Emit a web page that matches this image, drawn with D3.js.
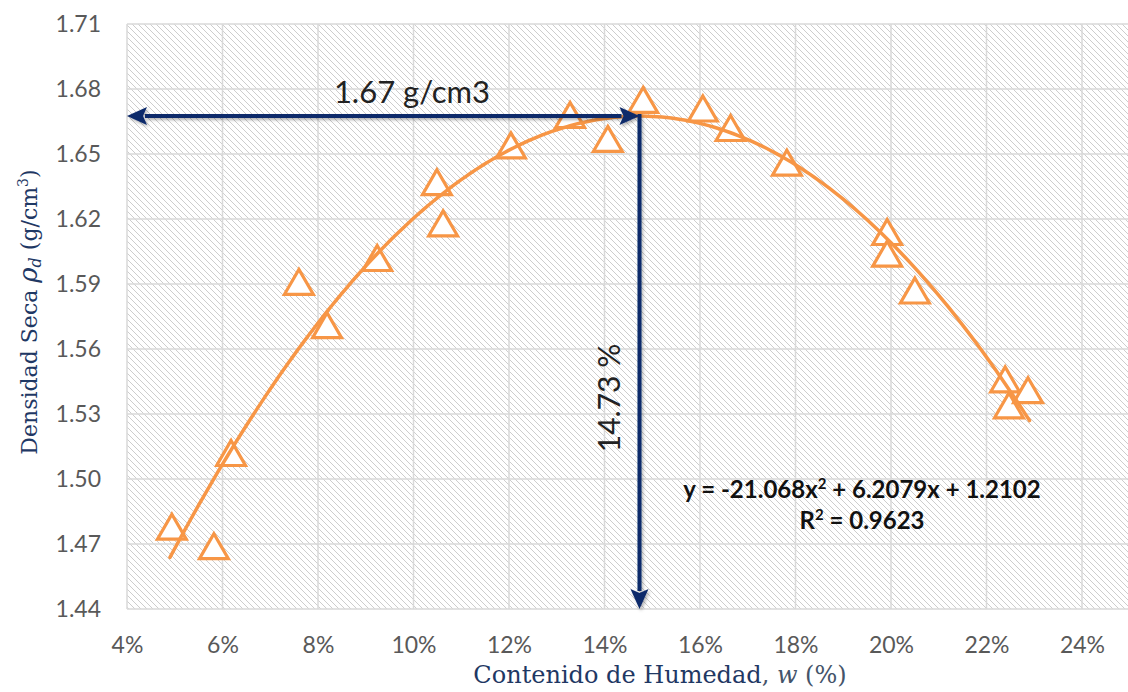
<!DOCTYPE html>
<html>
<head>
<meta charset="utf-8">
<script src="https://cdn.jsdelivr.net/npm/d3@7/dist/d3.min.js"></script>
<style>
  body { margin: 0; background: #fff; }
  svg { display: block; }
</style>
</head>
<body>
<svg id="chart" width="1128" height="692"></svg>
<script>
// Moisture content (fraction) and dry density (g/cm3) of each compaction test
const moisture = [0.0494, 0.0582, 0.0618, 0.0760, 0.0819, 0.0924, 0.1049, 0.1062,
                  0.1204, 0.1328, 0.1407, 0.1481, 0.1606, 0.1664, 0.1782, 0.1992,
                  0.1992, 0.2050, 0.2239, 0.2247, 0.2287];
const dryDensity = [1.477, 1.468, 1.511, 1.590, 1.570, 1.601, 1.636, 1.617,
                    1.653, 1.667, 1.656, 1.674, 1.670, 1.661, 1.645, 1.613,
                    1.603, 1.586, 1.545, 1.533, 1.540];
// Quadratic fit y = a x^2 + b x + c
const fitCoefficients = [-21.068, 6.2079, 1.2102];
const fitRSquared = "0.9623";
const fitRange = [0.049, 0.229];
const xTicks = [0.04, 0.06, 0.08, 0.10, 0.12, 0.14, 0.16, 0.18, 0.20, 0.22, 0.24];
const yTicks = [1.44, 1.47, 1.50, 1.53, 1.56, 1.59, 1.62, 1.65, 1.68, 1.71];

const svg = d3.select("#chart");
const plot = { left: 127, right: 1128, top: 24, bottom: 609 };

const x = d3.scaleLinear().domain([0.04, 0.24]).range([127, 1082]);
const y = d3.scaleLinear().domain([1.44, 1.71]).range([plot.bottom, plot.top]);

const [a, b, c] = fitCoefficients;
const fit = w => a * w * w + b * w + c;
const wOpt = -b / (2 * a);
const rhoMax = fit(wOpt);

const defs = svg.append("defs");
const hatch = defs.append("pattern")
  .attr("id", "hatch").attr("patternUnits", "userSpaceOnUse")
  .attr("width", 6).attr("height", 6);
hatch.append("rect").attr("width", 6).attr("height", 6).attr("fill", "#fff");
hatch.append("path")
  .attr("d", "M0,0 L6,6 M-1,5 L1,7 M5,-1 L7,1")
  .attr("stroke", "#cdcdcd").attr("stroke-width", 1);

const shadow = defs.append("filter").attr("id", "shadow")
  .attr("x", "-20%").attr("y", "-20%").attr("width", "140%").attr("height", "140%");
shadow.append("feDropShadow").attr("dx", 1.5).attr("dy", 2).attr("stdDeviation", 1.5)
  .attr("flood-color", "#000").attr("flood-opacity", 0.3);

// Plot area background
svg.append("rect")
  .attr("x", plot.left).attr("y", plot.top)
  .attr("width", plot.right - plot.left).attr("height", plot.bottom - plot.top)
  .attr("fill", "url(#hatch)");

// Gridlines
const grid = svg.append("g").attr("stroke", "#d9d9d9").attr("stroke-width", 1.5);
grid.selectAll(".gy").data(yTicks).join("line")
  .attr("x1", plot.left).attr("x2", plot.right)
  .attr("y1", d => y(d)).attr("y2", d => y(d));
grid.selectAll(".gx").data(xTicks).join("line")
  .attr("x1", d => x(d)).attr("x2", d => x(d))
  .attr("y1", plot.top).attr("y2", plot.bottom);

// Axes (labels only)
const tickFont = "Lato, 'Open Sans', sans-serif";
const yAxis = svg.append("g").attr("transform", `translate(${plot.left},0)`)
  .call(d3.axisLeft(y).tickValues(yTicks).tickFormat(d3.format(".2f")).tickSize(0).tickPadding(26));
const xAxis = svg.append("g").attr("transform", `translate(0,${plot.bottom})`)
  .call(d3.axisBottom(x).tickValues(xTicks).tickFormat(d3.format(".0%")).tickSize(0).tickPadding(28));
[yAxis, xAxis].forEach(g => {
  g.select(".domain").remove();
  g.selectAll("text").attr("fill", "#595959").style("font-family", tickFont).style("font-size", "23px");
});

// Data markers
svg.append("g").selectAll("path").data(moisture).join("path")
  .attr("d", d3.symbol(d3.symbolTriangle, 360))
  .attr("transform", (d, i) => `translate(${x(d)},${y(dryDensity[i]) + 2})`)
  .attr("fill", "#fff").attr("stroke", "#f79646").attr("stroke-width", 3.2);

// Polynomial trendline
const fitPts = d3.range(fitRange[0], fitRange[1] + 1e-9, 0.001).map(w => [w, fit(w)]);
svg.append("path").datum(fitPts)
  .attr("d", d3.line().x(d => x(d[0])).y(d => y(d[1])))
  .attr("fill", "none").attr("stroke", "#f79646").attr("stroke-width", 3.5)
  .attr("stroke-linecap", "round");

// Optimum arrows
const navy = "#0d2a6b";
const px = x(wOpt), py = y(rhoMax);
const ah = 20, aw = 9;
const arrows = svg.append("g").attr("filter", "url(#shadow)");
arrows.append("line").attr("x1", plot.left + ah - 2).attr("x2", px - ah + 2)
  .attr("y1", py).attr("y2", py).attr("stroke", navy).attr("stroke-width", 4);
arrows.append("line").attr("x1", px).attr("x2", px)
  .attr("y1", py - 2).attr("y2", plot.bottom - ah + 2).attr("stroke", navy).attr("stroke-width", 4);
arrows.append("path").attr("fill", navy)
  .attr("d", `M${plot.left},${py} L${plot.left + ah},${py - aw} L${plot.left + ah - 4},${py} L${plot.left + ah},${py + aw} Z`);
arrows.append("path").attr("fill", navy)
  .attr("d", `M${px},${py} L${px - ah},${py - aw} L${px - ah + 4},${py} L${px - ah},${py + aw} Z`);
arrows.append("path").attr("fill", navy)
  .attr("d", `M${px},${plot.bottom} L${px - aw},${plot.bottom - ah} L${px},${plot.bottom - ah + 4} L${px + aw},${plot.bottom - ah} Z`);

// Arrow labels
svg.append("text")
  .attr("x", 412).attr("y", py - 13)
  .attr("text-anchor", "middle").attr("fill", "#222")
  .style("font-family", tickFont).style("font-size", "31px")
  .text(`${rhoMax.toFixed(2)} g/cm3`);
svg.append("text")
  .attr("transform", `translate(${px - 20},398) rotate(-90)`)
  .attr("text-anchor", "middle").attr("fill", "#222")
  .style("font-family", tickFont).style("font-size", "30px")
  .text(`${(wOpt * 100).toFixed(2)} %`);

// Trendline equation
const eq = svg.append("text").attr("text-anchor", "middle").attr("fill", "#111")
  .style("font-family", tickFont).style("font-size", "24px").style("font-weight", "bold");
const eqLine1 = eq.append("tspan").attr("x", 862).attr("y", 498);
eqLine1.append("tspan").text(`y = ${a}x`);
eqLine1.append("tspan").attr("dy", -9).style("font-size", "15px").text("2");
eqLine1.append("tspan").attr("dy", 9).text(` + ${b}x + ${c}`);
const eqLine2 = eq.append("tspan").attr("x", 862).attr("y", 529);
eqLine2.append("tspan").text("R");
eqLine2.append("tspan").attr("dy", -9).style("font-size", "15px").text("2");
eqLine2.append("tspan").attr("dy", 9).text(` = ${fitRSquared}`);

// Axis titles
const titleFont = "'DejaVu Serif', 'Liberation Serif', serif";
const titleColor = "#1f3864";
const xt = svg.append("text").attr("x", 660).attr("y", 683)
  .attr("text-anchor", "middle").attr("fill", titleColor)
  .style("font-family", titleFont).style("font-size", "24px");
xt.append("tspan").text("Contenido de Humedad");
xt.append("tspan").attr("fill", "#44546a").text(", ");
xt.append("tspan").attr("fill", "#44546a").style("font-style", "italic").text("w");
xt.append("tspan").attr("fill", "#44546a").text(" (%)");

const yt = svg.append("text")
  .attr("transform", "translate(37,312) rotate(-90)")
  .attr("text-anchor", "middle").attr("fill", titleColor)
  .style("font-family", titleFont).style("font-size", "22px");
yt.append("tspan").text("Densidad Seca  ");
yt.append("tspan").style("font-style", "italic").style("font-size", "26px").text("ρ");
yt.append("tspan").style("font-style", "italic").style("font-size", "16px").attr("dy", 4).text("d");
yt.append("tspan").attr("dy", -4).text("  (g/cm");
yt.append("tspan").style("font-size", "14px").attr("dy", -9).text("3");
yt.append("tspan").attr("dy", 9).text(")");
</script>
</body>
</html>
